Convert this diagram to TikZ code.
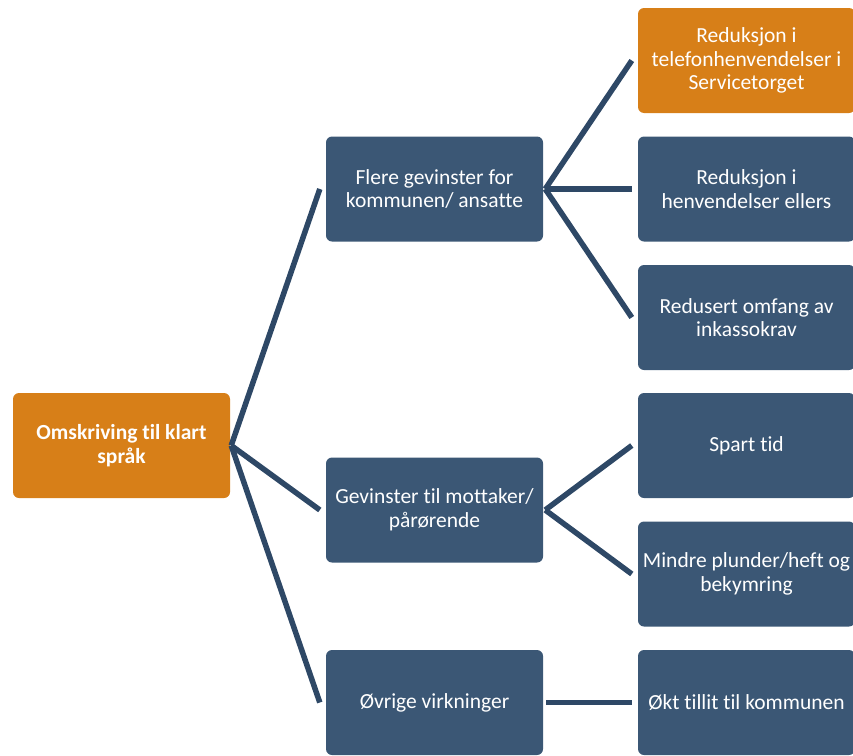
\documentclass[tikz,border=0pt]{standalone}
\usepackage{fontspec}
\setmainfont{Carlito}[Ligatures=NoCommon]
\definecolor{boksblaa}{RGB}{59,87,117}
\definecolor{grenblaa}{RGB}{46,72,102}
\definecolor{boksoransje}{RGB}{215,127,24}
\tikzset{
  boks/.style={draw=none, fill=boksblaa, rounded corners=6pt, minimum width=217pt, minimum height=105pt, inner sep=0pt, align=center, text=white, font=\fontsize{21.5}{23.5}\selectfont},
  oransje/.style={boks, fill=boksoransje},
  gren/.style={draw=grenblaa, line width=5.5pt},
}

\begin{document}
\begin{tikzpicture}[x=1pt, y=-1pt]
	\clip (0, 0) rectangle (853, 755); %bildeflaten
	\node[oransje, font=\fontsize{21.5}{23.5}\selectfont\bfseries] (rot) at (121.5, 445.5) {Omskriving til klart\\språk}; %hovedboks
	\node[boks] (kommune) at (434.5, 189) {Flere gevinster for\\kommunen/ ansatte}; %nivaa 2
	\node[boks] (mottaker) at (434.5, 510) {Gevinster til mottaker/\\pårørende};
	\node[boks] (ovrige) at (434.5, 702.5) {Øvrige virkninger};
	\node[oransje] (telefon) at (746.5, 60.5) {Reduksjon i\\telefonhenvendelser i\\Servicetorget}; %nivaa 3
	\node[boks] (henvend) at (746.5, 189) {Reduksjon i\\henvendelser ellers};
	\node[boks] (inkasso) at (746.5, 317.5) {Redusert omfang av\\inkassokrav};
	\node[boks] (tid) at (746.5, 445.5) {Spart tid};
	\node[boks] (plunder) at (746.5, 574) {Mindre plunder/heft og\\bekymring};
	\node[boks] (tillit) at (746.5, 702.5) {Økt tillit til kommunen};
%	grener fra hovedboksen
	\foreach \barn in {kommune, mottaker, ovrige}
		\draw[gren] ([xshift=1pt]rot.east) -- ([xshift=-6pt]\barn.west);
%	grener paa nivaa 3
	\foreach \barn in {telefon, henvend, inkasso}
		\draw[gren] ([xshift=2pt]kommune.east) -- ([xshift=-6pt]\barn.west);
	\foreach \barn in {tid, plunder}
		\draw[gren] ([xshift=2pt]mottaker.east) -- ([xshift=-6pt]\barn.west);
	\draw[gren] ([xshift=3pt]ovrige.east) -- ([xshift=-6pt]tillit.west);
\end{tikzpicture}
\end{document}
